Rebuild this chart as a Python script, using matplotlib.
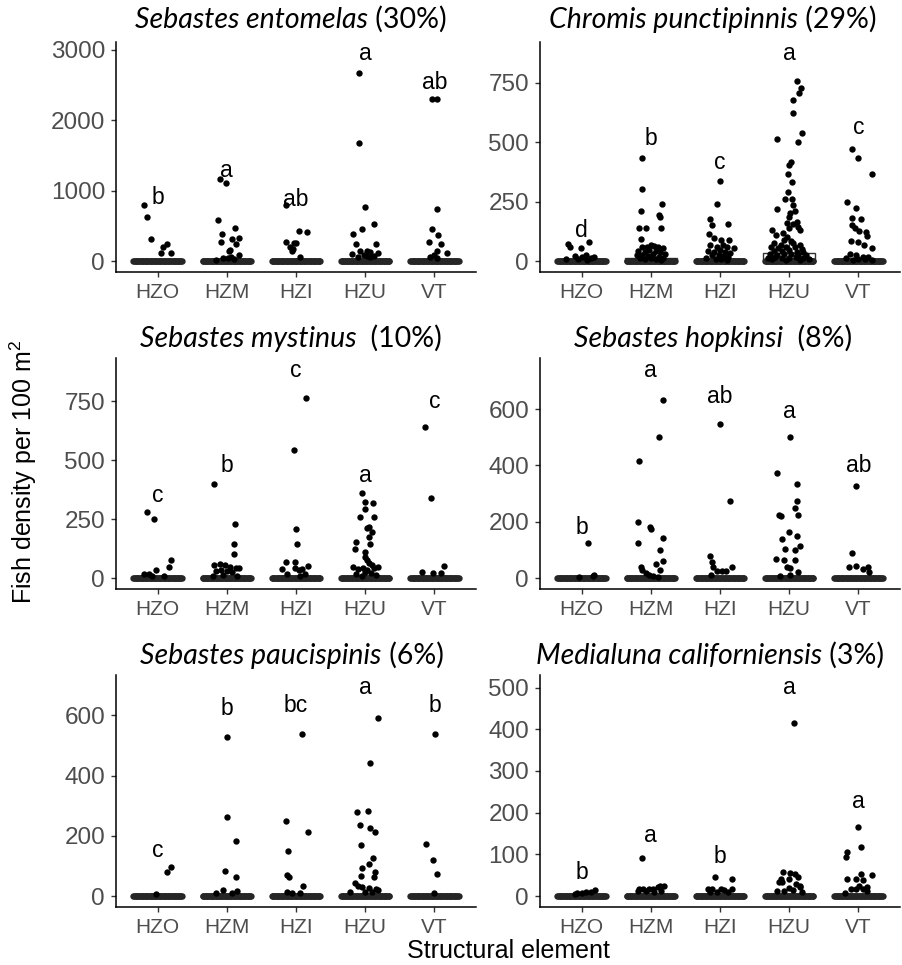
import numpy as np
import matplotlib.pyplot as plt

plt.rcParams['font.family'] = ['Liberation Sans', 'DejaVu Sans']
plt.rcParams['mathtext.default'] = 'regular'

# ### data: (jitter offset, density) per structural element

groups = ['HZO', 'HZM', 'HZI', 'HZU', 'VT']

species = ['Sebastes entomelas', 'Chromis punctipinnis', 'Sebastes mystinus',
           'Sebastes hopkinsi', 'Sebastes paucispinis', 'Medialuna californiensis']
shares = [' (30%)', ' (29%)', '  (10%)', '  (8%)', ' (6%)', ' (3%)']

entomelas = {
    'HZO': [(-0.19, 803), (-0.15, 624), (-0.09, 316), (0.08, 200), (0.13, 246), (0.05, 113), (0.19, 113)],
    'HZM': [(-0.10, 1167), (-0.01, 1110), (-0.12, 586), (-0.07, 383), (0.12, 477), (-0.08, 269), (0.08, 316),
            (0.18, 335), (0.13, 241), (0.05, 160), (0.03, 151), (0.17, 90), (-0.05, 45), (0.02, 40),
            (-0.15, 20), (0.10, 30), (0.06, 60)],
    'HZI': [(-0.15, 794), (0.04, 430), (0.16, 420), (-0.14, 279), (-0.03, 255), (0.0, 255), (-0.09, 208),
            (-0.06, 151), (0.06, 66), (-0.04, 180)],
    'HZU': [(-0.09, 2664), (-0.09, 1672), (-0.01, 765), (-0.04, 463), (0.12, 529), (-0.18, 383), (-0.13, 246),
            (0.16, 241), (-0.07, 151), (0.02, 151), (0.07, 128), (0.19, 113), (-0.19, 104), (-0.02, 90),
            (0.03, 75), (0.07, 66), (-0.10, 60), (0.12, 70)],
    'VT': [(-0.03, 2296), (0.04, 2296), (0.03, 742), (-0.03, 453), (0.05, 368), (-0.08, 274), (0.09, 241),
           (0.03, 151), (0.18, 113), (0.0, 90), (-0.06, 66), (0.03, 50)],
}

chromis = {
    'HZO': [(-0.19, 74), (-0.16, 59), (-0.01, 56), (0.11, 83), (-0.10, 22), (0.01, 20), (0.06, 27),
            (0.18, 20), (-0.05, 10), (0.13, 12), (-0.22, 8), (0.08, 5)],
    'HZM': [(-0.13, 434), (-0.12, 302), (-0.14, 213), (0.16, 242), (0.12, 194), (0.13, 185), (-0.17, 140),
            (-0.07, 140), (0.15, 141), (-0.14, 95), (-0.12, 62), (-0.06, 58), (0.0, 70), (0.05, 65),
            (0.10, 60), (0.17, 55), (-0.18, 45), (-0.09, 40), (-0.02, 48), (0.07, 42), (0.14, 38),
            (0.20, 30), (-0.20, 25), (-0.13, 28), (-0.04, 22), (0.03, 30), (0.12, 20), (0.18, 15),
            (-0.16, 12), (-0.08, 10), (0.0, 12), (0.08, 8), (0.15, 6)],
    'HZI': [(0.0, 337), (-0.05, 242), (-0.15, 176), (0.11, 155), (-0.12, 151), (-0.16, 113), (-0.09, 97),
            (0.01, 90), (0.13, 90), (0.20, 55), (-0.14, 70), (-0.05, 62), (0.04, 68), (0.10, 58),
            (-0.18, 45), (-0.08, 40), (0.0, 48), (0.07, 40), (0.15, 35), (-0.12, 25), (-0.02, 28),
            (0.05, 22), (0.12, 18), (-0.20, 12), (-0.06, 10), (0.02, 8), (0.10, 6)],
    'HZU': [(0.11, 758), (0.17, 729), (0.14, 708), (0.06, 677), (0.05, 621), (0.19, 537), (-0.18, 515),
            (0.13, 502), (0.02, 416), (-0.01, 406), (-0.02, 367), (0.04, 332), (-0.02, 291), (-0.06, 263),
            (0.04, 260), (0.06, 236), (-0.18, 218), (0.09, 211), (0.01, 201), (-0.01, 187), (0.11, 166),
            (-0.03, 160), (0.06, 157), (0.13, 146), (-0.01, 141), (-0.25, 131), (0.16, 131), (-0.09, 120),
            (-0.19, 110), (-0.03, 103), (-0.22, 75), (-0.12, 70), (0.05, 78), (0.15, 68), (-0.26, 60),
            (-0.16, 55), (-0.05, 62), (0.08, 58), (0.19, 52), (-0.22, 45), (-0.11, 42), (0.0, 48),
            (0.11, 40), (0.20, 38), (-0.28, 30), (-0.18, 28), (-0.07, 32), (0.03, 30), (0.13, 25),
            (0.24, 28), (-0.30, 15), (-0.20, 18), (-0.10, 12), (0.0, 15), (0.10, 18), (0.20, 12),
            (0.28, 10), (-0.25, 8), (-0.05, 6), (0.15, 5), (0.02, 85), (-0.08, 90)],
    'VT': [(-0.10, 473), (-0.01, 434), (0.19, 367), (-0.17, 249), (-0.04, 225), (-0.10, 180), (0.04, 178),
           (-0.10, 151), (-0.05, 141), (0.01, 126), (0.11, 122), (0.13, 108), (-0.11, 87), (-0.01, 83),
           (0.08, 69), (0.19, 55), (-0.12, 30), (-0.04, 25), (0.06, 20), (0.14, 18), (-0.18, 12),
           (0.0, 10), (0.10, 8), (-0.08, 5), (0.20, 6)],
}

mystinus = {
    'HZO': [(-0.15, 282), (-0.05, 250), (0.20, 76), (0.17, 49), (-0.02, 34), (-0.19, 18), (-0.13, 18),
            (-0.08, 10), (0.10, 8)],
    'HZM': [(-0.18, 400), (0.12, 230), (0.10, 147), (0.10, 103), (-0.18, 55), (-0.10, 60), (-0.03, 55),
            (0.05, 48), (0.13, 42), (0.18, 45), (-0.08, 35), (-0.15, 32), (0.0, 30), (0.08, 25),
            (-0.05, 15), (0.15, 12), (-0.20, 10)],
    'HZI': [(0.14, 763), (-0.03, 543), (0.0, 210), (0.01, 144), (-0.15, 70), (-0.02, 68), (0.18, 54),
            (-0.20, 38), (-0.01, 44), (0.04, 37), (0.09, 40), (-0.13, 20), (0.13, 18), (0.06, 12)],
    'HZU': [(-0.05, 362), (-0.01, 324), (0.11, 317), (-0.01, 292), (-0.07, 261), (0.13, 258), (0.06, 219),
            (0.02, 211), (0.10, 195), (0.05, 176), (-0.14, 155), (0.07, 144), (-0.15, 124), (0.0, 113),
            (0.0, 92), (0.02, 78), (0.06, 66), (-0.17, 49), (0.18, 49), (-0.10, 38), (-0.03, 42),
            (0.12, 42), (0.03, 35), (-0.13, 20), (0.08, 22), (0.15, 15), (-0.05, 12), (0.0, 25), (0.10, 55)],
    'VT': [(-0.13, 640), (-0.05, 338), (0.14, 54), (-0.18, 25), (-0.02, 24), (0.09, 21)],
}

hopkinsi = {
    'HZO': [(0.10, 124), (0.18, 12), (0.17, 8), (-0.04, 4)],
    'HZM': [(0.17, 632), (0.12, 501), (-0.17, 415), (-0.19, 198), (-0.01, 181), (0.0, 174), (0.17, 142),
            (-0.19, 126), (0.13, 102), (0.17, 63), (0.07, 50), (0.13, 31), (-0.14, 41), (-0.12, 30),
            (-0.07, 18), (-0.02, 12), (0.03, 8), (0.10, 5)],
    'HZI': [(0.0, 546), (0.14, 274), (-0.15, 80), (0.18, 41), (-0.12, 57), (-0.10, 39), (-0.04, 27),
            (0.03, 27), (0.08, 27), (-0.13, 12)],
    'HZU': [(0.01, 502), (-0.17, 374), (0.11, 333), (0.11, 274), (0.09, 250), (0.13, 224), (-0.15, 224),
            (-0.12, 221), (-0.01, 163), (0.11, 151), (-0.11, 139), (-0.06, 104), (0.09, 99), (0.16, 115),
            (-0.19, 70), (-0.08, 65), (0.08, 64), (-0.03, 39), (0.01, 35), (0.13, 21), (0.01, 12), (-0.13, 8)],
    'VT': [(-0.04, 328), (-0.10, 89), (-0.13, 41), (-0.04, 45), (0.06, 33), (0.14, 39), (0.15, 24)],
}

paucispinis = {
    'HZO': [(0.19, 97), (0.13, 79), (-0.02, 7)],
    'HZM': [(0.0, 527), (0.0, 263), (0.13, 183), (-0.03, 84), (0.14, 64), (-0.05, 20), (0.15, 18),
            (-0.15, 9), (0.07, 9)],
    'HZI': [(0.09, 539), (-0.14, 250), (0.18, 213), (-0.12, 149), (-0.13, 71), (-0.10, 63), (0.10, 33),
            (-0.13, 12), (-0.06, 11), (0.06, 11)],
    'HZU': [(0.19, 591), (0.07, 442), (-0.12, 278), (0.04, 282), (-0.07, 236), (0.07, 227), (0.14, 214),
            (-0.06, 169), (0.11, 125), (0.05, 106), (-0.04, 93), (0.14, 79), (0.12, 62), (-0.06, 66),
            (-0.15, 44), (-0.10, 34), (-0.05, 31), (0.05, 25), (0.15, 22), (0.18, 20), (-0.22, 14),
            (0.0, 12), (0.10, 12)],
    'VT': [(0.01, 537), (-0.12, 173), (-0.02, 120), (0.03, 72), (-0.01, 11)],
}

medialuna = {
    'HZO': [(0.20, 14), (0.14, 9), (0.06, 9), (0.01, 7), (-0.06, 7), (-0.10, 5)],
    'HZM': [(-0.12, 92), (0.19, 25), (0.14, 24), (0.10, 22), (0.03, 18), (-0.02, 18), (-0.17, 18),
            (-0.11, 16), (-0.07, 13), (-0.19, 13), (0.15, 13), (0.05, 10)],
    'HZI': [(-0.07, 47), (0.17, 40), (-0.18, 18), (-0.11, 16), (0.01, 16), (0.06, 14), (0.18, 18),
            (-0.04, 10), (0.11, 10), (-0.14, 10)],
    'HZU': [(0.07, 414), (-0.09, 58), (0.01, 56), (0.09, 53), (-0.12, 42), (0.13, 46), (-0.01, 41),
            (0.16, 22), (-0.11, 34), (-0.15, 33), (0.15, 24), (-0.18, 13), (-0.08, 13), (0.06, 14),
            (0.18, 10), (0.0, 20), (0.10, 30)],
    'VT': [(-0.01, 166), (0.03, 117), (-0.16, 106), (-0.18, 93), (0.19, 50), (0.03, 52), (-0.17, 42),
           (-0.04, 41), (0.07, 38), (0.01, 24), (0.12, 22), (-0.11, 18), (-0.04, 16), (0.06, 16),
           (0.13, 13), (-0.20, 8)],
}

# number of zero counts per group (the dark band on the baseline)
zero_counts = [60, 60, 60, 60, 60]

# compact letter display
letters = [['b', 'a', 'ab', 'a', 'ab'], ['d', 'b', 'c', 'a', 'c'], ['c', 'b', 'c', 'a', 'c'],
           ['b', 'a', 'ab', 'a', 'ab'], ['c', 'b', 'bc', 'a', 'b'], ['b', 'a', 'b', 'a', 'a']]
letter_y = [[812, 1200, 789, 2853, 2437], [104, 488, 388, 845, 533], [324, 451, 853, 406, 719],
            [156, 712, 620, 570, 378], [131, 601, 612, 670, 610], [42, 129, 80, 484, 212]]

# box stats (q1, median, q3); most collapse to zero
flat = [(0, 0, 0)] * 5
chromis_box = [(0, 0, 0), (0, 0, 12), (0, 0, 0), (0, 3, 33), (0, 0, 0)]
box_stats = [flat, chromis_box, flat, flat, flat, flat]

ylims = [(-152, 3107), (-45, 921), (-45, 932), (-38, 781), (-36.5, 734), (-26, 530)]
yticks = [[0, 1000, 2000, 3000], [0, 250, 500, 750], [0, 250, 500, 750],
          [0, 200, 400, 600], [0, 200, 400, 600], [0, 100, 200, 300, 400, 500]]

panels = [entomelas, chromis, mystinus, hopkinsi, paucispinis, medialuna]

# ### layout in pixels (left, top, width, height)
W, H = 902, 965
rects = [(116, 42, 360, 230), (540, 42, 360, 230),
         (116, 358, 360, 231), (540, 358, 360, 231),
         (116, 675, 360, 232), (540, 675, 360, 232)]
title_cx = [291, 713, 291, 713, 292, 710]
title_base = [28, 28, 347, 347, 664, 664]

fig = plt.figure(figsize=(W / 100, H / 100), dpi=100)


def draw_panel(ax, pts, boxes, labs, lab_y, ylim, ticks):
    for i, g in enumerate(groups):
        vals = [v for _, v in pts[g]]
        q1, med, q3 = boxes[i]
        hi = max([v for v in vals if v <= q3 + 1.5 * (q3 - q1)] + [q3])
        ax.bxp([{'q1': q1, 'med': med, 'q3': q3, 'whislo': q1, 'whishi': hi, 'fliers': []}],
               positions=[i], widths=0.75, showfliers=False, showcaps=False,
               patch_artist=True, manage_ticks=False,
               boxprops=dict(facecolor='white', edgecolor='#333333', linewidth=1.0),
               medianprops=dict(color='#333333', linewidth=2.0),
               whiskerprops=dict(color='#333333', linewidth=1.0), zorder=1)
        zx = i + np.linspace(-0.35, 0.35, zero_counts[i])
        ax.scatter(zx, np.zeros(len(zx)), s=21, color='#262626', linewidths=0, zorder=2)
        ax.scatter([i + o for o, _ in pts[g]], vals, s=21, color='black', linewidths=0, zorder=3)
        ax.text(i, lab_y[i], labs[i], ha='center', va='baseline', fontsize=16.5, color='black')
    ax.set_xlim(-0.6, 4.6)
    ax.set_ylim(*ylim)
    ax.set_xticks(range(5))
    ax.set_xticklabels(groups)
    ax.set_yticks(ticks)
    for s in ['top', 'right']:
        ax.spines[s].set_visible(False)
    for s in ['left', 'bottom']:
        ax.spines[s].set_linewidth(1.1)
    ax.tick_params(length=3.6, width=1.0, color='#333333', labelcolor='#4D4D4D', pad=4.3)
    ax.tick_params(axis='y', labelsize=17.5)
    ax.tick_params(axis='x', labelsize=15)


for k, (l, t, w, h) in enumerate(rects):
    ax = fig.add_axes([l / W, 1 - (t + h) / H, w / W, h / H])
    draw_panel(ax, panels[k], box_stats[k], letters[k], letter_y[k], ylims[k], yticks[k])

# titles: italic species name followed by upright share
r = fig.canvas.get_renderer()
for k in range(6):
    yb = 1 - title_base[k] / H
    t1 = fig.text(0, yb, species[k], family='Lato', style='italic', fontsize=20.5, ha='left', va='baseline')
    t2 = fig.text(0, yb, shares[k], family='Lato', fontsize=20.5, ha='left', va='baseline')
    w1 = t1.get_window_extent(r).width
    w2 = t2.get_window_extent(r).width
    left = title_cx[k] - (w1 + w2) / 2
    t1.set_x(left / W)
    t2.set_x((left + w1) / W)

fig.text(23 / W, 1 - 472 / H, 'Fish density per 100 m$^2$', rotation=90, ha='center', va='center', fontsize=18)
fig.text(508 / W, 1 - 951 / H, 'Structural element', ha='center', va='center', fontsize=18)

plt.savefig('out.png', dpi=100)
